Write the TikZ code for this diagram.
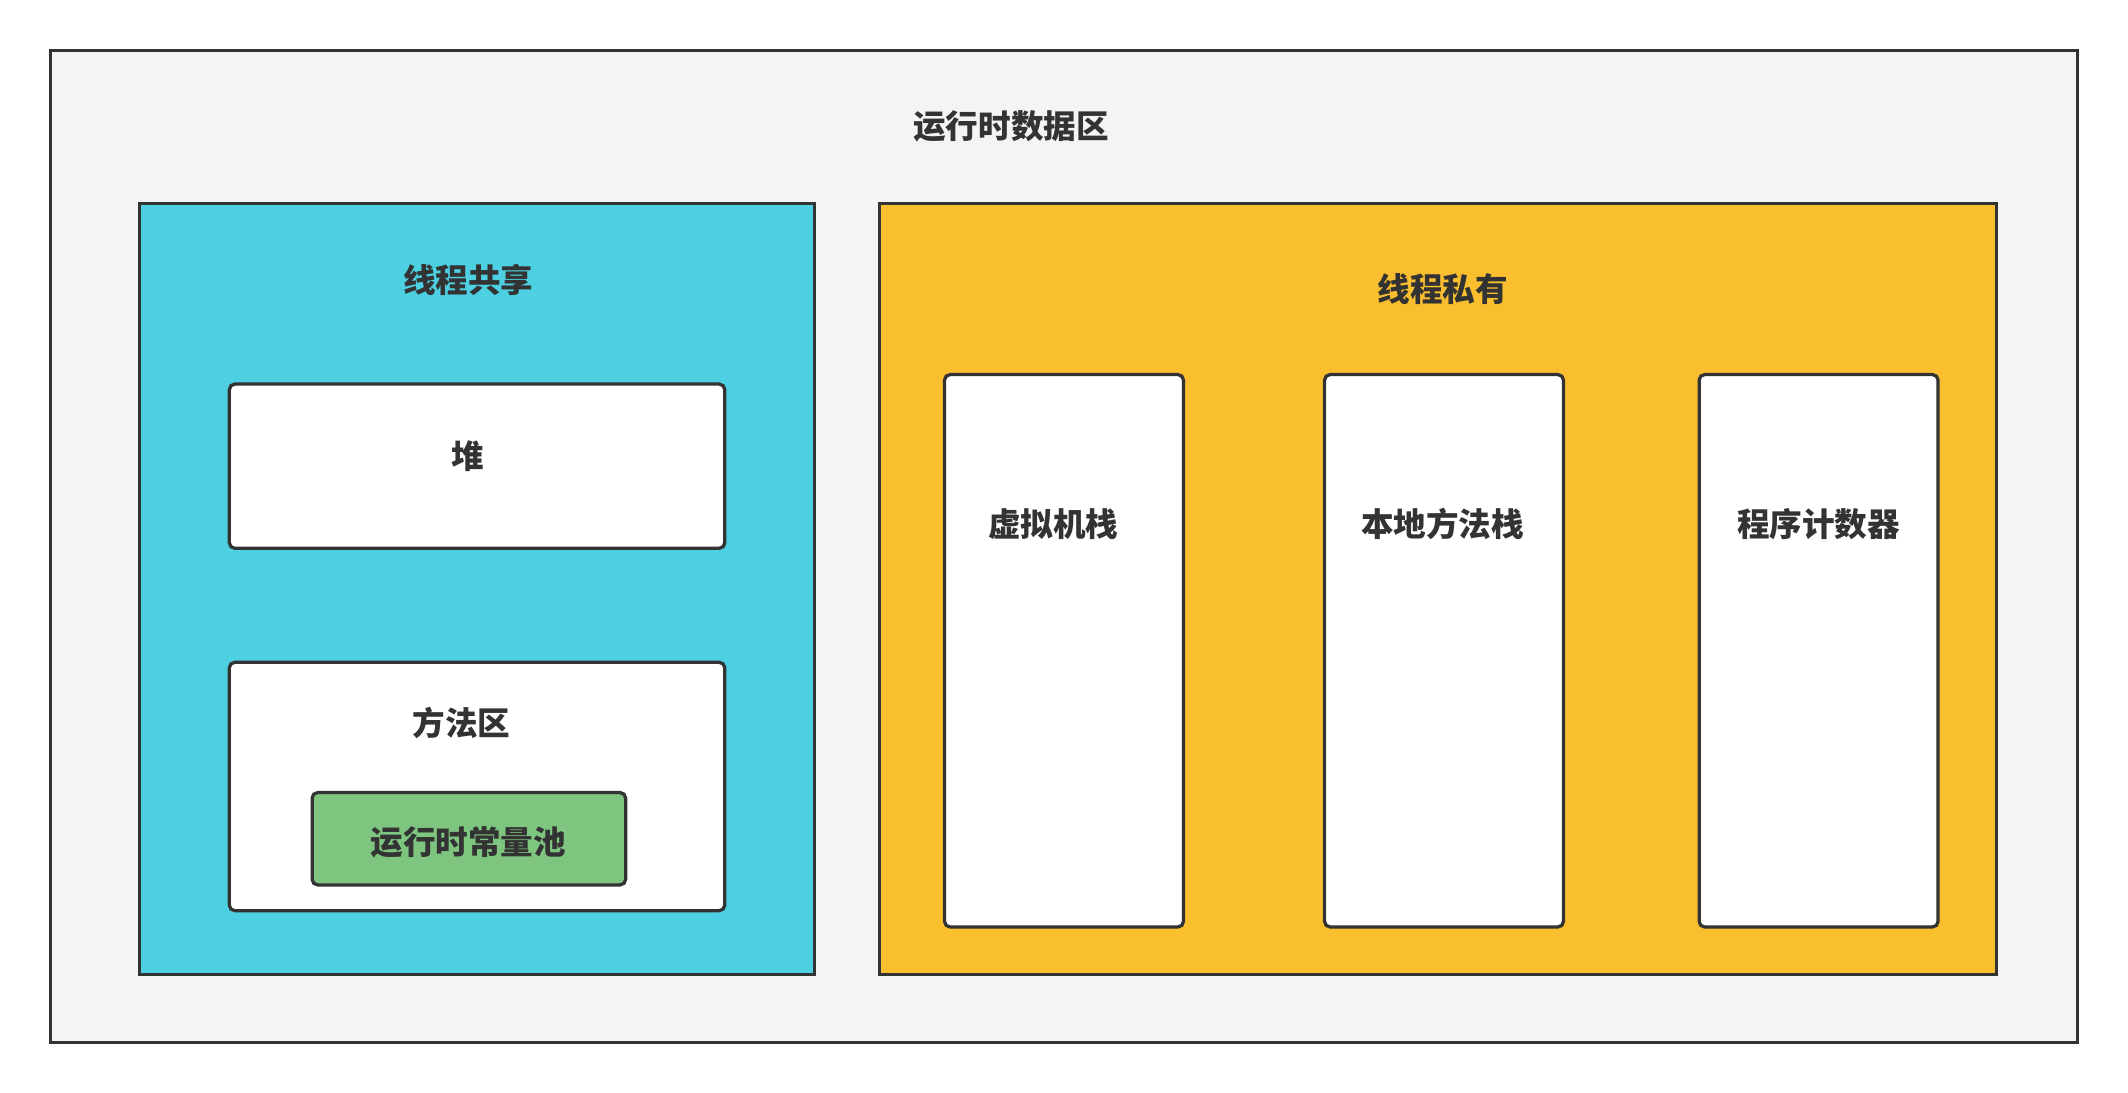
\documentclass[tikz,border=0pt]{standalone}
\usepackage{fontspec}
\setmainfont{Noto Sans CJK SC}
\definecolor{AreaGray}{HTML}{f4f4f4}
\definecolor{ShareBlue}{HTML}{4dd0e1}
\definecolor{PrivYellow}{HTML}{f9bf2e}
\definecolor{PoolGreen}{HTML}{7ec580}
\definecolor{LineDark}{HTML}{333333}
\tikzstyle{area}=[draw=LineDark, line width=1.2pt]
\tikzstyle{part}=[draw=LineDark, line width=1.2pt, fill=white, rounded corners=2pt]
\tikzstyle{caption}=[font=\fontsize{12}{14}\selectfont\bfseries, text=LineDark]
\begin{document}
\begin{tikzpicture}[x=0.5pt, y=-0.5pt]
      \useasboundingbox (0,0) rectangle (1568,805);
      \fill[white] (0,0) rectangle (1568,805);
      \draw[area, fill=AreaGray] (37,37) rectangle (1531,768);
      \node (runtime) at (745,93) [caption] {运行时数据区};

      \draw[area, fill=ShareBlue] (103,150) rectangle (600,718);
      \node (shared) at (345,206) [caption] {线程共享};
      \draw[part] (169,283) rectangle (534,404);
      \node (heap) at (345,336) [caption] {堆};
      \draw[part] (169,488) rectangle (534,671);
      \node (method) at (340,533) [caption] {方法区};
      \draw[part, fill=PoolGreen] (230,584) rectangle (461,652);
      \node (pool) at (345,621) [caption] {运行时常量池};

      \draw[area, fill=PrivYellow] (648,150) rectangle (1471,718);
      \node (private) at (1063,213) [caption] {线程私有};
      \draw[part] (696,276) rectangle (872,683);
      \node (vmstack) at (776,386) [caption] {虚拟机栈};
      \draw[part] (976,276) rectangle (1152,683);
      \node (native) at (1063,386) [caption] {本地方法栈};
      \draw[part] (1252,276) rectangle (1428,683);
      \node (pc) at (1340,386) [caption] {程序计数器};
    \end{tikzpicture}
\end{document}
